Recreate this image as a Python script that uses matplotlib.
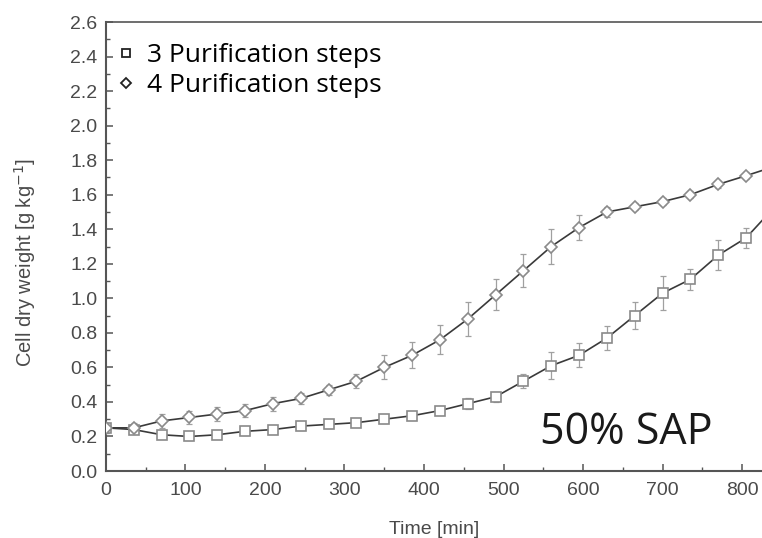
import numpy as np
import matplotlib
matplotlib.use("Agg")
import matplotlib.pyplot as plt
from matplotlib.ticker import MultipleLocator

# time points (min), markers every 35 min; last value is the line end at the frame edge
time = [0, 35, 70, 105, 140, 175, 210, 245, 280, 315, 350, 385, 420, 455,
        490, 525, 560, 595, 630, 665, 700, 735, 770, 805]
time_end = 825

# 3 purification steps (squares)
steps3 = [0.25, 0.24, 0.21, 0.20, 0.21, 0.23, 0.24, 0.26, 0.27, 0.28, 0.30, 0.32,
          0.35, 0.39, 0.43, 0.52, 0.61, 0.67, 0.77, 0.90, 1.03, 1.11, 1.25, 1.35]
steps3_err = [0.03, 0.02, 0.02, 0.02, 0.02, 0.02, 0.02, 0.02, 0.02, 0.02, 0.02, 0.02,
              0.02, 0.03, 0.03, 0.04, 0.08, 0.07, 0.07, 0.08, 0.10, 0.06, 0.085, 0.06]
steps3_end = 1.45

# 4 purification steps (diamonds)
steps4 = [0.25, 0.25, 0.29, 0.31, 0.33, 0.35, 0.39, 0.42, 0.47, 0.52, 0.60, 0.67,
          0.76, 0.88, 1.02, 1.16, 1.30, 1.41, 1.50, 1.53, 1.56, 1.60, 1.66, 1.71]
steps4_err = [0.03, 0.03, 0.04, 0.04, 0.04, 0.04, 0.04, 0.03, 0.03, 0.04, 0.07, 0.075,
              0.085, 0.10, 0.09, 0.095, 0.10, 0.07, 0.03, 0.02, 0.02, 0.02, 0.02, 0.02]
steps4_end = 1.74

fig = plt.figure(figsize=(7.62, 5.38), dpi=100)
ax = fig.add_axes([0.139, 0.1245, 0.861, 0.8346])

line_col = "#3a3a3a"
mk_col = "#8a8a8a"
err_col = "#a0a0a0"

for y, err, yend, mk, lab in [(steps3, steps3_err, steps3_end, "s", "3 Purification steps"),
                              (steps4, steps4_err, steps4_end, "D", "4 Purification steps")]:
    ax.plot(time + [time_end], y + [yend], color=line_col, lw=1.2, zorder=2)
    ax.errorbar(time, y, yerr=err, fmt="none", ecolor=err_col, elinewidth=0.9,
                capsize=2, capthick=0.9, zorder=3)
    ax.plot(time, y, ls="none", marker=mk, ms=7 if mk == "s" else 6.5,
            mfc="white", mec=mk_col, mew=1.2, zorder=4)
    # legend handle (marker only)
    ax.plot([], [], ls="none", marker=mk, ms=6 if mk == "s" else 5.5,
            mfc="white", mec="#222222", mew=1.3, label=lab)

ax.set_xlim(0, time_end)
ax.set_ylim(0, 2.6)
ax.xaxis.set_major_locator(MultipleLocator(100))
ax.xaxis.set_minor_locator(MultipleLocator(50))
ax.yaxis.set_major_locator(MultipleLocator(0.2))
ax.yaxis.set_minor_locator(MultipleLocator(0.1))
ax.yaxis.set_major_formatter(matplotlib.ticker.FormatStrFormatter("%.1f"))

ax.tick_params(which="both", direction="in", top=False, right=False,
               color="#555555", labelcolor="#4a4a4a")
ax.tick_params(which="major", length=5, width=1.1, labelsize=14)
ax.tick_params(which="minor", length=3, width=1.0)
ax.tick_params(axis="x", pad=8)
ax.tick_params(axis="y", pad=6)
for lbl in ax.get_xticklabels() + ax.get_yticklabels():
    lbl.set_family("Liberation Sans")

ax.spines["right"].set_visible(False)
ax.spines["left"].set_linewidth(1.5)
ax.spines["bottom"].set_linewidth(1.5)
ax.spines["top"].set_linewidth(1.2)
for s in ["left", "bottom", "top"]:
    ax.spines[s].set_color("#555555")

ax.set_xlabel("Time [min]", family="Liberation Sans", fontsize=14,
              color="#4a4a4a", labelpad=16)
ax.text(-0.123, 0.465, "Cell dry weight [g kg$^{-1}$]", transform=ax.transAxes,
        rotation=90, ha="center", va="center", family="Liberation Sans",
        fontsize=14.5, color="#4a4a4a")

ax.legend(loc="upper left", bbox_to_anchor=(-0.0137, 1.0), frameon=False,
          prop={"family": "Open Sans", "size": 19},
          handlelength=0.6, handletextpad=0.5, labelspacing=0.2,
          borderaxespad=0.6, borderpad=0.2)

ax.text(655, 0.155, "50% SAP", family="Open Sans", fontsize=31, color="#1a1a1a",
        ha="center", va="baseline")

fig.savefig("out.png", dpi=100)
